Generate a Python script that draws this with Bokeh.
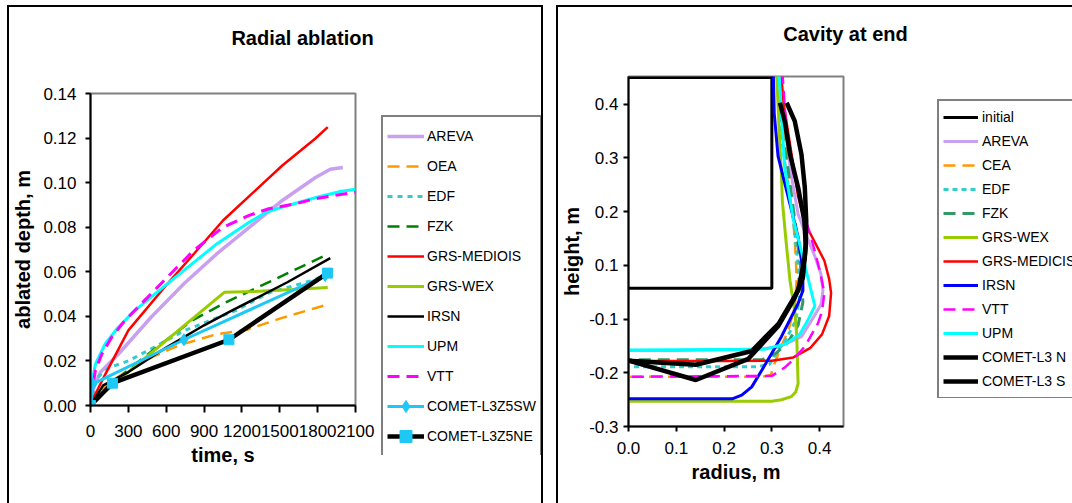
from bokeh.plotting import figure
from bokeh.models import Legend, LegendItem, FixedTicker, Range1d, Label
from bokeh.embed import file_html
from bokeh.resources import INLINE

FONT = "Liberation Sans"

# ---------------- Left chart data: Radial ablation ----------------
time_ticks = [0, 300, 600, 900, 1200, 1500, 1800, 2100]
depth_ticks = [0.0, 0.02, 0.04, 0.06, 0.08, 0.10, 0.12, 0.14]

areva_t = [0, 30, 80, 220, 480, 740, 1000, 1260, 1520, 1780, 1900, 2000]
areva_d = [0, 0.009, 0.015, 0.023, 0.0396, 0.0546, 0.068, 0.080, 0.092, 0.1022, 0.106, 0.1068]

oea_t = [0, 100, 300, 500, 700, 1000, 1240, 1500, 1860]
oea_d = [0, 0.008, 0.016, 0.022, 0.027, 0.032, 0.034, 0.039, 0.045]

edf_t = [0, 40, 150, 300, 500, 740, 1150, 1410, 1780, 1860]
edf_d = [0, 0.012, 0.017, 0.020, 0.026, 0.0335, 0.0426, 0.0505, 0.0565, 0.059]

fzk_t = [0, 100, 300, 500, 800, 1073, 1400, 1886]
fzk_d = [0, 0.006, 0.016, 0.025, 0.038, 0.0463, 0.055, 0.068]

medicis_t = [0, 20, 117, 300, 610, 820, 1050, 1335, 1520, 1780, 1880]
medicis_d = [0, 0.003, 0.014, 0.0337, 0.0546, 0.0681, 0.083, 0.098, 0.1077, 0.1197, 0.1249]

wex_t = [0, 1060, 1300, 1600, 1880]
wex_d = [0.001, 0.0508, 0.0512, 0.052, 0.0530]

irsn_t = [0, 100, 300, 600, 900, 1100, 1560, 1900]
irsn_d = [0, 0.009, 0.015, 0.026, 0.036, 0.042, 0.0553, 0.0661]

upm_t = [0, 20, 40, 117, 220, 350, 480, 740, 1000, 1260, 1390, 1520, 1780, 1980, 2100]
upm_d = [0.003, 0.013, 0.0187, 0.0277, 0.0351, 0.0426, 0.0486, 0.0606, 0.0725, 0.0823,
         0.0867, 0.089, 0.0932, 0.096, 0.097]

vtt_t = [0, 13, 39, 91, 169, 272, 480, 661, 817, 1050, 1257, 1413, 1620, 1776, 1983, 2100]
vtt_d = [0.0022, 0.0067, 0.0157, 0.0232, 0.0307, 0.0381, 0.0501, 0.0606, 0.0695, 0.080,
         0.0853, 0.0883, 0.0905, 0.0927, 0.0947, 0.0957]

sw_t = [0, 20, 740, 1860]
sw_d = [0, 0.0097, 0.0295, 0.0583]

ne_t = [0, 174, 1097, 1878]
ne_d = [0, 0.010, 0.0295, 0.0594]

# ---------------- Right chart data: Cavity at end ----------------
radius_ticks = [0.0, 0.1, 0.2, 0.3, 0.4]
height_ticks = [-0.3, -0.1833, -0.0667, 0.05, 0.1667, 0.2833, 0.4]
height_tick_labels = ["-0.3", "-0.2", "-0.1", "0.1", "0.2", "0.3", "0.4"]

init_r = [0.0, 0.3, 0.3, 0.0]
init_h = [0.0, 0.0, 0.458, 0.458]

c_areva_r = [0.318, 0.322, 0.33, 0.34, 0.355, 0.37, 0.39, 0.403, 0.407, 0.403, 0.386, 0.362, 0.313, 0.25, 0.1, 0.0, 0.0]
c_areva_h = [0.47, 0.40, 0.33, 0.25, 0.161, 0.12, 0.07, 0.03, -0.005, -0.035, -0.065, -0.105, -0.128, -0.133, -0.135, -0.135, -0.235]

c_cea_r = [0.318, 0.325, 0.335, 0.345, 0.35, 0.352, 0.348, 0.335, 0.32, 0.305, 0.298, 0.28, 0.0]
c_cea_h = [0.47, 0.35, 0.25, 0.15, 0.07, 0.02, -0.04, -0.09, -0.125, -0.165, -0.188, -0.192, -0.192]

c_edf_r = [0.312, 0.318, 0.33, 0.345, 0.355, 0.358, 0.35, 0.33, 0.31, 0.295, 0.27, 0.0]
c_edf_h = [0.47, 0.35, 0.25, 0.15, 0.05, -0.02, -0.07, -0.11, -0.14, -0.165, -0.17, -0.17]

c_fzk_r = [0.314, 0.32, 0.335, 0.348, 0.36, 0.365, 0.355, 0.335, 0.31, 0.28, 0.0]
c_fzk_h = [0.47, 0.35, 0.25, 0.15, 0.05, -0.03, -0.08, -0.115, -0.14, -0.155, -0.155]

c_wex_r = [0.310, 0.315, 0.320, 0.322, 0.330, 0.338, 0.348, 0.352, 0.355, 0.350, 0.341, 0.320, 0.30, 0.0]
c_wex_h = [0.47, 0.35, 0.25, 0.19, 0.10, 0.017, -0.05, -0.10, -0.207, -0.225, -0.235, -0.242, -0.245, -0.245]

c_medicis_r = [0.319, 0.325, 0.34, 0.355, 0.37, 0.39, 0.41, 0.42, 0.424, 0.42, 0.405, 0.38, 0.345, 0.30, 0.2, 0.0]
c_medicis_h = [0.47, 0.40, 0.30, 0.20, 0.14, 0.10, 0.06, 0.02, -0.01, -0.06, -0.10, -0.13, -0.15, -0.157, -0.158, -0.158]

c_irsn_r = [0.303, 0.305, 0.313, 0.338, 0.355, 0.365, 0.365, 0.355, 0.32, 0.279, 0.258, 0.237, 0.217, 0.0]
c_irsn_h = [0.47, 0.38, 0.287, 0.183, 0.111, 0.039, -0.005, -0.033, -0.105, -0.178, -0.214, -0.232, -0.24, -0.24]

c_vtt_r = [0.322, 0.33, 0.345, 0.365, 0.385, 0.400, 0.410, 0.405, 0.397, 0.37, 0.345, 0.327, 0.30, 0.0]
c_vtt_h = [0.47, 0.35, 0.25, 0.17, 0.10, 0.04, -0.01, -0.05, -0.075, -0.125, -0.155, -0.172, -0.19, -0.192]

c_upm_r = [0.315, 0.32, 0.327, 0.345, 0.362, 0.39, 0.375, 0.359, 0.33, 0.286, 0.0]
c_upm_h = [0.47, 0.38, 0.26, 0.15, 0.08, -0.038, -0.07, -0.099, -0.12, -0.132, -0.134]

c_cometn_r = [0.331, 0.348, 0.362, 0.369, 0.372, 0.371, 0.365, 0.348, 0.314, 0.251, 0.141, 0.0]
c_cometn_h = [0.403, 0.363, 0.291, 0.219, 0.147, 0.095, 0.023, -0.02, -0.081, -0.153, -0.199, -0.157]

c_comets_r = [0.317, 0.327, 0.338, 0.355, 0.368, 0.371, 0.369, 0.355, 0.314, 0.258, 0.141, 0.0]
c_comets_h = [0.403, 0.363, 0.291, 0.219, 0.147, 0.095, 0.067, -0.005, -0.077, -0.136, -0.166, -0.157]

# series styles (colour, width, dash) shared by plot lines and legend samples
LEFT_STYLES = {
    "AREVA": ("#C9A0F0", 3.5, "solid"),
    "OEA": ("#FF9900", 2.5, "12 7"),
    "EDF": ("#33CCCC", 3, "5 5"),
    "FZK": ("#008000", 2.5, "12 7"),
    "GRS-MEDIOIS": ("#FF0000", 2.5, "solid"),
    "GRS-WEX": ("#99CC00", 3, "solid"),
    "IRSN": ("black", 2.5, "solid"),
    "UPM": ("#00FFFF", 3, "solid"),
    "VTT": ("#FF00FF", 3, "12 7"),
    "COMET-L3Z5SW": ("#1EC8F5", 3, "solid"),
    "COMET-L3Z5NE": ("black", 4.5, "solid"),
}
RIGHT_STYLES = {
    "initial": ("black", 3, "solid"),
    "AREVA": ("#C9A0F0", 3, "solid"),
    "CEA": ("#FF9900", 2.5, "12 7"),
    "EDF": ("#33CCCC", 3, "5 4"),
    "FZK": ("#339966", 3, "12 7"),
    "GRS-WEX": ("#99CC00", 3, "solid"),
    "GRS-MEDICIS": ("#FF0000", 2.5, "solid"),
    "IRSN": ("#0000FF", 3, "solid"),
    "VTT": ("#FF00FF", 2.5, "12 7"),
    "UPM": ("#00FFFF", 3, "solid"),
    "COMET-L3 N": ("black", 4.5, "solid"),
    "COMET-L3 S": ("black", 4.5, "solid"),
}
MARKER_COLOR = "#1EC8F5"


def place(p, left, top):
    p.styles = {"position": "absolute", "left": "%dpx" % left, "top": "%dpx" % top}


def style_axes(p):
    for ax in (p.xaxis, p.yaxis):
        ax.axis_line_color = "black"
        ax.axis_line_width = 2
        ax.major_tick_line_color = "black"
        ax.major_tick_line_width = 2
        ax.major_tick_in = 0
        ax.minor_tick_line_color = None
        ax.major_label_text_font = FONT
        ax.major_label_text_font_size = "17px"
        ax.major_label_text_color = "black"
        ax.axis_label_text_font = FONT
        ax.axis_label_text_font_size = "20px"
        ax.axis_label_text_font_style = "bold"
        ax.axis_label_text_color = "black"
    p.grid.visible = False
    p.outline_line_color = "#808080"
    p.outline_line_width = 2
    p.background_fill_color = "white"
    p.border_fill_color = "white"


def aux_figure(w, h):
    f = figure(width=w, height=h, x_range=Range1d(0, 1), y_range=Range1d(0, 1),
               output_backend="svg", toolbar_location=None, title=None, tools="",
               x_axis_location=None, y_axis_location=None, min_border=0)
    f.grid.visible = False
    f.outline_line_color = None
    f.background_fill_alpha = 0
    f.border_fill_alpha = 0
    return f


def legend_figure(w, h, names, styles, glyph_w, item_h, standoff, markers):
    # legend samples: renderers whose single point lies outside the visible range
    f = aux_figure(w, h)
    items = []
    for name in names:
        col, lw, dash = styles[name]
        rs = [f.line([5, 6], [5, 6], line_color=col, line_width=lw, line_dash=dash)]
        if name in markers:
            rs.append(f.scatter([5], [5], marker=markers[name], size=11,
                                fill_color=MARKER_COLOR, line_color=MARKER_COLOR))
        items.append(LegendItem(label=name, renderers=rs))
    lg = Legend(items=items, location="top_left")
    lg.label_text_font = FONT
    lg.label_text_font_size = "14px"
    lg.label_text_color = "black"
    lg.glyph_width = glyph_w
    lg.glyph_height = item_h
    lg.label_height = item_h
    lg.spacing = 0
    lg.padding = 4
    lg.margin = 1
    lg.label_standoff = standoff
    lg.border_line_color = "black"
    lg.border_line_width = 2
    lg.background_fill_color = "white"
    lg.background_fill_alpha = 1.0
    f.add_layout(lg, "center")
    return f


def title_figure(w, h, text):
    f = aux_figure(w, h)
    f.add_layout(Label(x=0.5, y=0.5, text=text, text_align="center", text_baseline="middle",
                       text_font=FONT, text_font_size="20px", text_font_style="bold",
                       text_color="black"))
    return f


def lline(p, x, y, name, styles):
    col, lw, dash = styles[name]
    return p.line(x, y, line_color=col, line_width=lw, line_dash=dash)


# ---------------- Left figure ----------------
p1 = figure(width=532, height=496, x_range=Range1d(0, 2100), y_range=Range1d(0, 0.14),
            output_backend="svg", toolbar_location=None, title=None, tools="",
            min_border_left=76, min_border_right=186, min_border_top=86, min_border_bottom=98)
style_axes(p1)
p1.xaxis.ticker = FixedTicker(ticks=time_ticks)
p1.yaxis.ticker = FixedTicker(ticks=depth_ticks)
p1.yaxis.major_label_overrides = {v: "%.2f" % v for v in depth_ticks}
p1.xaxis.major_tick_out = 7
p1.yaxis.major_tick_out = 5
p1.xaxis.major_label_standoff = 12
p1.yaxis.major_label_standoff = 9
p1.xaxis.axis_label = "time, s"
p1.yaxis.axis_label = "ablated depth, m"
p1.xaxis.axis_label_standoff = 4
p1.yaxis.axis_label_standoff = 6

lline(p1, areva_t, areva_d, "AREVA", LEFT_STYLES)
lline(p1, oea_t, oea_d, "OEA", LEFT_STYLES)
lline(p1, edf_t, edf_d, "EDF", LEFT_STYLES)
lline(p1, fzk_t, fzk_d, "FZK", LEFT_STYLES)
lline(p1, medicis_t, medicis_d, "GRS-MEDIOIS", LEFT_STYLES)
lline(p1, wex_t, wex_d, "GRS-WEX", LEFT_STYLES)
lline(p1, irsn_t, irsn_d, "IRSN", LEFT_STYLES)
lline(p1, upm_t, upm_d, "UPM", LEFT_STYLES)
lline(p1, vtt_t, vtt_d, "VTT", LEFT_STYLES)
lline(p1, sw_t, sw_d, "COMET-L3Z5SW", LEFT_STYLES)
p1.scatter(sw_t, sw_d, marker="diamond", size=12, fill_color=MARKER_COLOR, line_color=MARKER_COLOR)
lline(p1, ne_t, ne_d, "COMET-L3Z5NE", LEFT_STYLES)
p1.scatter(ne_t, ne_d, marker="square", size=10, fill_color=MARKER_COLOR, line_color=MARKER_COLOR)
p1.styles = {"position": "absolute", "left": "9px", "top": "7px", "outline": "2px solid black"}

# ---------------- Right figure ----------------
p2 = figure(width=514, height=496, x_range=Range1d(0, 0.45), y_range=Range1d(-0.3, 0.46),
            output_backend="svg", toolbar_location=None, title=None, tools="",
            min_border_left=68, min_border_right=229, min_border_top=69, min_border_bottom=77)
style_axes(p2)
p2.xaxis.ticker = FixedTicker(ticks=radius_ticks)
p2.xaxis.major_label_overrides = {v: "%.1f" % v for v in radius_ticks}
p2.yaxis.ticker = FixedTicker(ticks=height_ticks)
p2.yaxis.major_label_overrides = dict(zip(height_ticks, height_tick_labels))
p2.xaxis.major_tick_out = 5
p2.yaxis.major_tick_out = 5
p2.xaxis.major_label_standoff = 10
p2.yaxis.major_label_standoff = 5
p2.xaxis.axis_label = "radius, m"
p2.yaxis.axis_label = "height, m"
p2.xaxis.axis_label_standoff = 4
p2.yaxis.axis_label_standoff = 3

lline(p2, init_r, init_h, "initial", RIGHT_STYLES)
lline(p2, c_areva_r, c_areva_h, "AREVA", RIGHT_STYLES)
lline(p2, c_cea_r, c_cea_h, "CEA", RIGHT_STYLES)
lline(p2, c_edf_r, c_edf_h, "EDF", RIGHT_STYLES)
lline(p2, c_fzk_r, c_fzk_h, "FZK", RIGHT_STYLES)
lline(p2, c_wex_r, c_wex_h, "GRS-WEX", RIGHT_STYLES)
lline(p2, c_medicis_r, c_medicis_h, "GRS-MEDICIS", RIGHT_STYLES)
lline(p2, c_irsn_r, c_irsn_h, "IRSN", RIGHT_STYLES)
lline(p2, c_vtt_r, c_vtt_h, "VTT", RIGHT_STYLES)
lline(p2, c_upm_r, c_upm_h, "UPM", RIGHT_STYLES)
lline(p2, c_cometn_r, c_cometn_h, "COMET-L3 N", RIGHT_STYLES)
lline(p2, c_comets_r, c_comets_h, "COMET-L3 S", RIGHT_STYLES)
p2.styles = {"position": "absolute", "left": "558px", "top": "7px", "outline": "2px solid black"}

# ---------------- Legends and titles ----------------
leg1 = legend_figure(161, 341, list(LEFT_STYLES.keys()), LEFT_STYLES, 37, 30, 3,
                     {"COMET-L3Z5SW": "diamond", "COMET-L3Z5NE": "square"})
place(leg1, 380, 114)
leg2 = legend_figure(136, 300, list(RIGHT_STYLES.keys()), RIGHT_STYLES, 35, 24, 4, {})
place(leg2, 936, 98)

t1 = title_figure(170, 30, "Radial ablation")
place(t1, 217, 22)
t2 = title_figure(150, 30, "Cavity at end")
place(t2, 770, 18)

open("out.html", "w").write(file_html([p1, p2, leg1, leg2, t1, t2], INLINE))
